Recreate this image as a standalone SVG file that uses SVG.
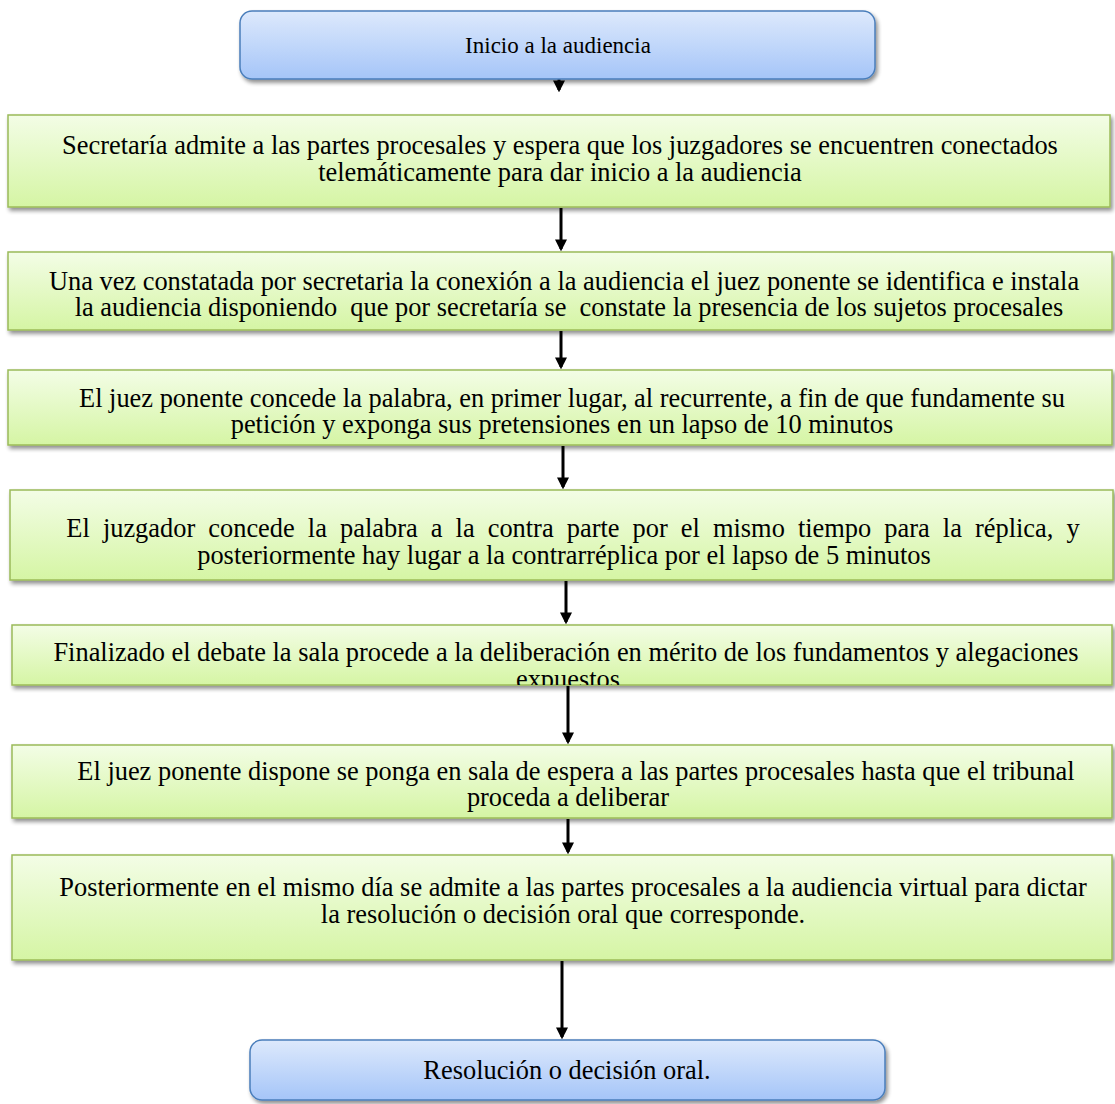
<svg xmlns="http://www.w3.org/2000/svg" width="1115" height="1104" viewBox="0 0 1115 1104">
<defs>
<linearGradient id="gGreen" x1="0" y1="0" x2="0" y2="1">
<stop offset="0" stop-color="#f3fde6"/>
<stop offset="1" stop-color="#d5f5a4"/>
</linearGradient>
<linearGradient id="gBlue" x1="0" y1="0" x2="0" y2="1">
<stop offset="0" stop-color="#dde9fc"/>
<stop offset="1" stop-color="#a5c5f8"/>
</linearGradient>
<filter id="sh" x="-5%" y="-20%" width="110%" height="150%">
<feGaussianBlur in="SourceAlpha" stdDeviation="2"/>
<feOffset dx="2" dy="3" result="b"/>
<feComponentTransfer><feFuncA type="linear" slope="0.45"/></feComponentTransfer>
<feMerge><feMergeNode/><feMergeNode in="SourceGraphic"/></feMerge>
</filter>
<marker id="ah" markerWidth="4" markerHeight="4" refX="3.2" refY="2" orient="auto" markerUnits="strokeWidth">
<path d="M0,0 L4,2 L0,4 z" fill="#000"/>
</marker>
<clipPath id="c5"><rect x="12" y="625" width="1100" height="60"/></clipPath>
</defs>
<style>
.g{fill:url(#gGreen);stroke:#9bbb59;stroke-width:1.5;filter:url(#sh)}
.b{fill:url(#gBlue);stroke:#4a7ebb;stroke-width:1.5;filter:url(#sh)}
.t{font-family:'Liberation Serif','Times New Roman',serif;font-size:26.4px;fill:#000;text-anchor:middle;white-space:pre}
.s{font-size:23px}
.c{stroke:#000;stroke-width:3;fill:none;marker-end:url(#ah)}
</style>
<g id="connectors">
<path d="M559,78 L559,90" class="c"/>
<line x1="561" y1="208" x2="561" y2="249" class="c"/>
<line x1="561" y1="331" x2="561" y2="367" class="c"/>
<line x1="563" y1="446" x2="563" y2="487" class="c"/>
<line x1="566" y1="581" x2="566" y2="622" class="c"/>
<line x1="568" y1="686" x2="568" y2="742" class="c"/>
<line x1="568" y1="819" x2="568" y2="852" class="c"/>
<line x1="562" y1="961" x2="562" y2="1037" class="c"/>
</g>
<g id="n0"><rect class="b" x="240" y="11" width="635" height="68" rx="12"/><text class="t s" x="558" y="53">Inicio a la audiencia</text></g>
<g id="n1"><rect class="g" x="8" y="115" width="1102" height="92"/><text class="t" x="560" y="154">Secretaría admite a las partes procesales y espera que los juzgadores se encuentren conectados</text><text class="t" x="560" y="181">telemáticamente para dar inicio a la audiencia</text></g>
<g id="n2"><rect class="g" x="8" y="252" width="1104" height="78"/><text class="t" x="564" y="290">Una vez constatada por secretaria la conexión a la audiencia el juez ponente se identifica e instala</text><text class="t" x="569" y="316" xml:space="preserve">la audiencia disponiendo  que por secretaría se  constate la presencia de los sujetos procesales</text></g>
<g id="n3"><rect class="g" x="8" y="370" width="1104" height="75"/><text class="t" x="572" y="407">El juez ponente concede la palabra, en primer lugar, al recurrente, a fin de que fundamente su</text><text class="t" x="562" y="433">petición y exponga sus pretensiones en un lapso de 10 minutos</text></g>
<g id="n4"><rect class="g" x="10" y="490" width="1103" height="90"/><text class="t" x="573" y="537" word-spacing="6.5">El juzgador concede la palabra a la contra parte por el mismo tiempo para la réplica, y</text><text class="t" x="564" y="564">posteriormente hay lugar a la contrarréplica por el lapso de 5 minutos</text></g>
<g id="n5"><rect class="g" x="12" y="625" width="1100" height="60"/><g clip-path="url(#c5)"><text class="t" x="566" y="661">Finalizado el debate la sala procede a la deliberación en mérito de los fundamentos y alegaciones</text><text class="t" x="568" y="688">expuestos</text></g></g>
<g id="n6"><rect class="g" x="12" y="745" width="1100" height="73"/><text class="t" x="576" y="780">El juez ponente dispone se ponga en sala de espera a las partes procesales hasta que el tribunal</text><text class="t" x="568" y="806">proceda a deliberar</text></g>
<g id="n7"><rect class="g" x="12" y="855" width="1100" height="105"/><text class="t" x="573" y="896">Posteriormente en el mismo día se admite a las partes procesales a la audiencia virtual para dictar</text><text class="t" x="563" y="923">la resolución o decisión oral que corresponde.</text></g>
<g id="n8"><rect class="b" x="250" y="1040" width="635" height="60" rx="12"/><text class="t" x="567" y="1079">Resolución o decisión oral.</text></g>
</svg>
